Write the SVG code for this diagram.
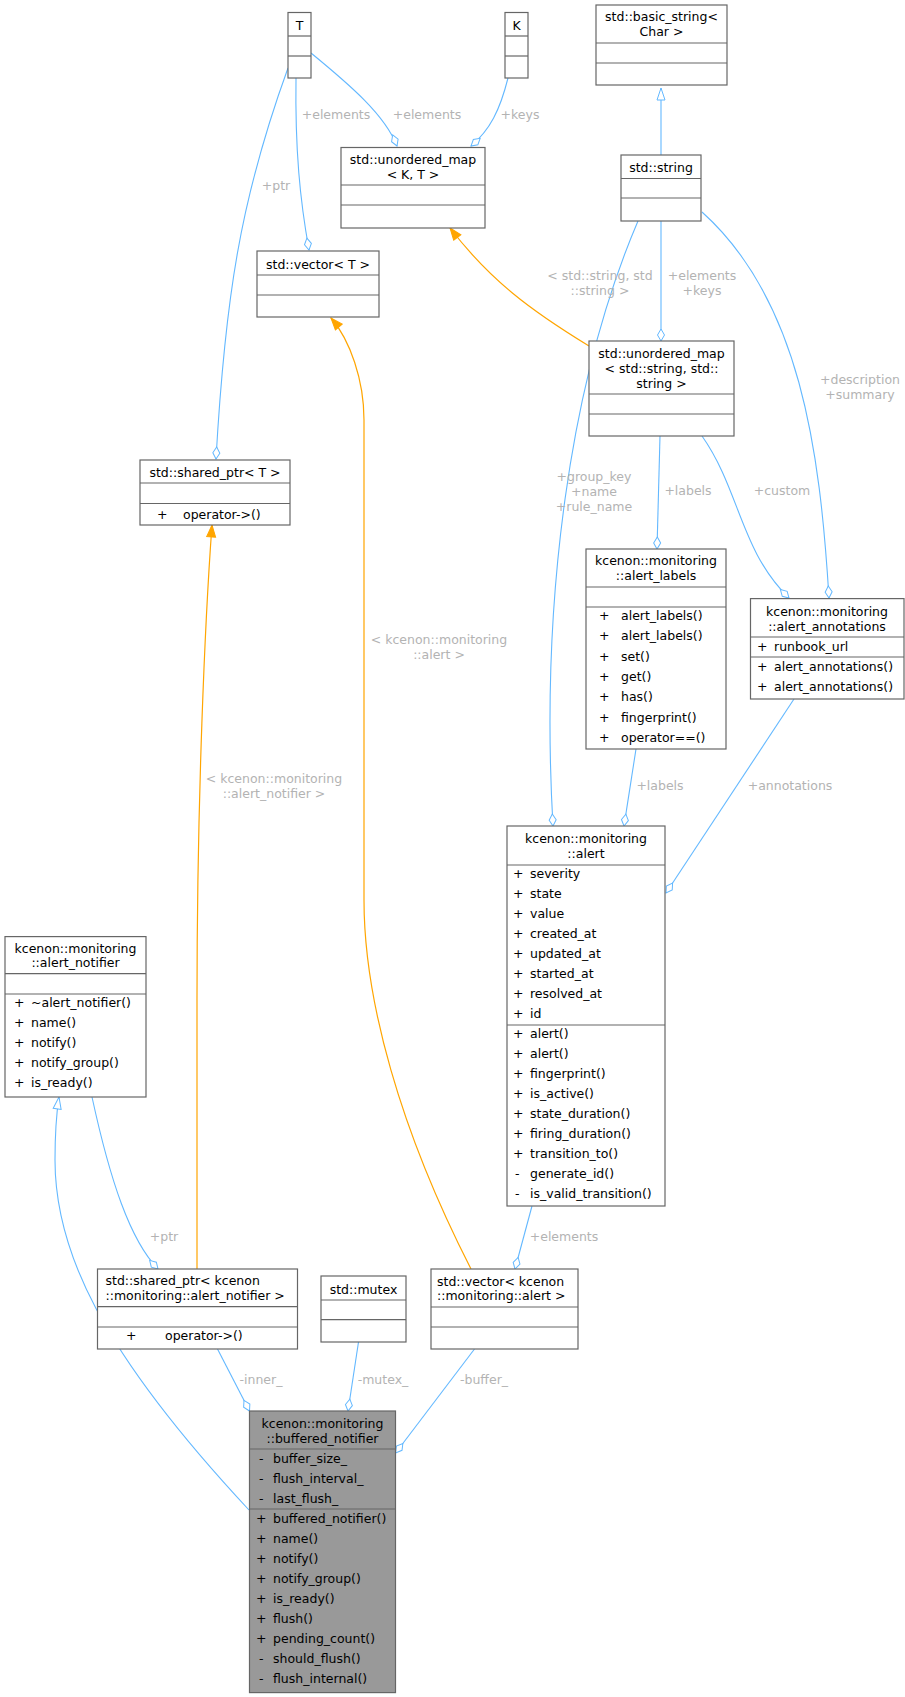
<svg xmlns="http://www.w3.org/2000/svg" width="905" height="1697" viewBox="0 0 905 1697">
<style>
text{font-family:"DejaVu Sans",sans-serif;font-size:12.5px;fill:#000}
.c{text-anchor:middle}
.l{font-size:12.5px;fill:#b3b3b3;text-anchor:middle}
.box{fill:#fff;stroke:#666;stroke-width:1.2}
.sel{fill:#999;stroke:#666;stroke-width:1.2}
.sep{stroke:#666;stroke-width:1.2}
.e{fill:none;stroke:#63b8ff;stroke-width:1.1}
.o{fill:none;stroke:#ffa500;stroke-width:1.2}
</style>
<defs>
<marker id="dia" viewBox="0 -5 14 10" refX="13" refY="0" markerWidth="14" markerHeight="10" markerUnits="userSpaceOnUse" orient="auto"><path d="M1,0 L7,-3.5 L13,0 L7,3.5Z" fill="#fff" stroke="#63b8ff"/></marker>
<marker id="inh" viewBox="0 -6 14 12" refX="13" refY="0" markerWidth="14" markerHeight="12" markerUnits="userSpaceOnUse" orient="auto"><path d="M1,-4 L13,0 L1,4Z" fill="#fff" stroke="#63b8ff"/></marker>
<marker id="tpl" viewBox="0 -6 14 12" refX="13" refY="0" markerWidth="14" markerHeight="12" markerUnits="userSpaceOnUse" orient="auto"><path d="M1,-4.5 L13,0 L1,4.5Z" fill="#ffa500" stroke="#ffa500"/></marker>
</defs>
<g id="edges">
<path class="e" d="M311,53 C350,85 385,115 397,146" marker-end="url(#dia)"/>
<text class="l" x="427" y="119">+elements</text>
<path class="e" d="M296,78 C295,150 300,200 309,250" marker-end="url(#dia)"/>
<text class="l" x="336" y="119">+elements</text>
<path class="e" d="M288,68 C240,200 225,300 216,459" marker-end="url(#dia)"/>
<text class="l" x="276" y="190">+ptr</text>
<path class="e" d="M508,78 C500,110 490,130 471,146" marker-end="url(#dia)"/>
<text class="l" x="520" y="119">+keys</text>
<path class="e" d="M661,155 L661,88" marker-end="url(#inh)"/>
<path class="e" d="M638,221 C570,380 540,600 553,826" marker-end="url(#dia)"/>
<text class="l" x="594" y="481">+group_key</text>
<text class="l" x="594" y="496">+name</text>
<text class="l" x="594" y="511">+rule_name</text>
<path class="e" d="M661,221 L661,341" marker-end="url(#dia)"/>
<text class="l" x="702" y="280">+elements</text>
<text class="l" x="702" y="295">+keys</text>
<path class="e" d="M702,212 C800,300 820,450 829,598" marker-end="url(#dia)"/>
<text class="l" x="860" y="384">+description</text>
<text class="l" x="860" y="399">+summary</text>
<path class="o" d="M589,346 C530,310 490,280 450,228" marker-end="url(#tpl)"/>
<text class="l" x="600" y="280">&lt; std::string, std</text>
<text class="l" x="600" y="295">::string &gt;</text>
<path class="e" d="M660,436 L657,549" marker-end="url(#dia)"/>
<text class="l" x="688" y="495">+labels</text>
<path class="e" d="M702,436 C740,490 740,550 789,598" marker-end="url(#dia)"/>
<text class="l" x="782" y="495">+custom</text>
<path class="o" d="M471,1269 C400,1130 364,1000 364,900 L364,420 C364,380 350,340 331,318" marker-end="url(#tpl)"/>
<text class="l" x="439" y="644">&lt; kcenon::monitoring</text>
<text class="l" x="439" y="659">::alert &gt;</text>
<path class="o" d="M197,1269 L197,1000 C197,800 205,620 212,525" marker-end="url(#tpl)"/>
<text class="l" x="274" y="783">&lt; kcenon::monitoring</text>
<text class="l" x="274" y="798">::alert_notifier &gt;</text>
<path class="e" d="M636,749 L624,826" marker-end="url(#dia)"/>
<text class="l" x="660" y="790">+labels</text>
<path class="e" d="M794,699 L666,893" marker-end="url(#dia)"/>
<text class="l" x="790" y="790">+annotations</text>
<path class="e" d="M532,1206 L515,1269" marker-end="url(#dia)"/>
<text class="l" x="564" y="1241">+elements</text>
<path class="e" d="M249,1510 C100,1350 55,1250 55,1160 C55,1130 57,1110 59,1097" marker-end="url(#inh)"/>
<path class="e" d="M92,1097 C110,1180 130,1240 158,1269" marker-end="url(#dia)"/>
<text class="l" x="164" y="1241">+ptr</text>
<path class="e" d="M217.5,1349 L249.5,1411" marker-end="url(#dia)"/>
<text class="l" x="261" y="1384">-inner_</text>
<path class="e" d="M358.5,1342 L348,1411" marker-end="url(#dia)"/>
<text class="l" x="383" y="1384">-mutex_</text>
<path class="e" d="M474.5,1349 L395.6,1453" marker-end="url(#dia)"/>
<text class="l" x="484" y="1384">-buffer_</text>
</g>
<g id="T"><rect class="box" x="288" y="12.5" width="23" height="65.5"/><line class="sep" x1="288" y1="36" x2="311" y2="36"/><line class="sep" x1="288" y1="56" x2="311" y2="56"/><text class="c" x="299.5" y="29.5">T</text></g>
<g id="K"><rect class="box" x="505" y="12.5" width="23" height="65.5"/><line class="sep" x1="505" y1="36" x2="528" y2="36"/><line class="sep" x1="505" y1="56" x2="528" y2="56"/><text class="c" x="516.5" y="29.5">K</text></g>
<g id="basic_string"><rect class="box" x="596" y="5" width="131" height="80"/><line class="sep" x1="596" y1="43" x2="727" y2="43"/><line class="sep" x1="596" y1="63" x2="727" y2="63"/><text class="c" x="661.5" y="21">std::basic_string&lt;</text><text class="c" x="661.5" y="36">Char &gt;</text></g>
<g id="umap_KT"><rect class="box" x="341" y="147.5" width="144" height="80.5"/><line class="sep" x1="341" y1="185" x2="485" y2="185"/><line class="sep" x1="341" y1="205" x2="485" y2="205"/><text class="c" x="413" y="164">std::unordered_map</text><text class="c" x="413" y="178.5">&lt; K, T &gt;</text></g>
<g id="string"><rect class="box" x="621" y="155" width="80" height="66"/><line class="sep" x1="621" y1="178.5" x2="701" y2="178.5"/><line class="sep" x1="621" y1="198" x2="701" y2="198"/><text class="c" x="661" y="172">std::string</text></g>
<g id="vector_T"><rect class="box" x="257" y="251" width="122" height="66"/><line class="sep" x1="257" y1="275" x2="379" y2="275"/><line class="sep" x1="257" y1="295" x2="379" y2="295"/><text class="c" x="318" y="268.5">std::vector&lt; T &gt;</text></g>
<g id="umap_ss"><rect class="box" x="589" y="341" width="145" height="95"/><line class="sep" x1="589" y1="394" x2="734" y2="394"/><line class="sep" x1="589" y1="414" x2="734" y2="414"/><text class="c" x="661.5" y="358">std::unordered_map</text><text class="c" x="661.5" y="372.5">&lt; std::string, std::</text><text class="c" x="661.5" y="387.5">string &gt;</text></g>
<g id="shared_ptr_T"><rect class="box" x="140" y="460" width="150" height="65"/><line class="sep" x1="140" y1="483" x2="290" y2="483"/><line class="sep" x1="140" y1="503.5" x2="290" y2="503.5"/><text class="c" x="215" y="476.5">std::shared_ptr&lt; T &gt;</text><text x="157" y="518.5">+</text><text x="183" y="518.5">operator-&gt;()</text></g>
<g id="alert_labels"><rect class="box" x="586" y="549" width="140" height="200"/><line class="sep" x1="586" y1="587" x2="726" y2="587"/><line class="sep" x1="586" y1="607" x2="726" y2="607"/><text class="c" x="656" y="565">kcenon::monitoring</text><text class="c" x="656" y="580">::alert_labels</text>
<text x="599" y="620">+</text><text x="621" y="620">alert_labels()</text>
<text x="599" y="640.3">+</text><text x="621" y="640.3">alert_labels()</text>
<text x="599" y="660.6">+</text><text x="621" y="660.6">set()</text>
<text x="599" y="680.9">+</text><text x="621" y="680.9">get()</text>
<text x="599" y="701.2">+</text><text x="621" y="701.2">has()</text>
<text x="599" y="721.5">+</text><text x="621" y="721.5">fingerprint()</text>
<text x="599" y="741.8">+</text><text x="621" y="741.8">operator==()</text></g>
<g id="alert_annotations"><rect class="box" x="750.5" y="598.6" width="153.5" height="100.4"/><line class="sep" x1="750.5" y1="637" x2="904" y2="637"/><line class="sep" x1="750.5" y1="657" x2="904" y2="657"/><text class="c" x="827" y="615.5">kcenon::monitoring</text><text class="c" x="827" y="630.5">::alert_annotations</text>
<text x="757" y="651">+</text><text x="774" y="651">runbook_url</text>
<text x="757" y="671">+</text><text x="774" y="671">alert_annotations()</text>
<text x="757" y="691">+</text><text x="774" y="691">alert_annotations()</text></g>
<g id="alert"><rect class="box" x="507" y="826" width="158" height="380"/><line class="sep" x1="507" y1="865" x2="665" y2="865"/><line class="sep" x1="507" y1="1025" x2="665" y2="1025"/><text class="c" x="586" y="843">kcenon::monitoring</text><text class="c" x="586" y="858">::alert</text>
<text x="513" y="878">+</text><text x="530" y="878">severity</text>
<text x="513" y="898">+</text><text x="530" y="898">state</text>
<text x="513" y="918">+</text><text x="530" y="918">value</text>
<text x="513" y="938">+</text><text x="530" y="938">created_at</text>
<text x="513" y="958">+</text><text x="530" y="958">updated_at</text>
<text x="513" y="978">+</text><text x="530" y="978">started_at</text>
<text x="513" y="998">+</text><text x="530" y="998">resolved_at</text>
<text x="513" y="1018">+</text><text x="530" y="1018">id</text>
<text x="513" y="1038">+</text><text x="530" y="1038">alert()</text>
<text x="513" y="1058">+</text><text x="530" y="1058">alert()</text>
<text x="513" y="1078">+</text><text x="530" y="1078">fingerprint()</text>
<text x="513" y="1098">+</text><text x="530" y="1098">is_active()</text>
<text x="513" y="1118">+</text><text x="530" y="1118">state_duration()</text>
<text x="513" y="1138">+</text><text x="530" y="1138">firing_duration()</text>
<text x="513" y="1158">+</text><text x="530" y="1158">transition_to()</text>
<text x="515" y="1178">-</text><text x="530" y="1178">generate_id()</text>
<text x="515" y="1198">-</text><text x="530" y="1198">is_valid_transition()</text></g>
<g id="alert_notifier"><rect class="box" x="5" y="936.6" width="141" height="160.4"/><line class="sep" x1="5" y1="973.7" x2="146" y2="973.7"/><line class="sep" x1="5" y1="994" x2="146" y2="994"/><text class="c" x="75.5" y="953">kcenon::monitoring</text><text class="c" x="75.5" y="967">::alert_notifier</text>
<text x="14" y="1007">+</text><text x="31" y="1007">~alert_notifier()</text>
<text x="14" y="1027">+</text><text x="31" y="1027">name()</text>
<text x="14" y="1047">+</text><text x="31" y="1047">notify()</text>
<text x="14" y="1067">+</text><text x="31" y="1067">notify_group()</text>
<text x="14" y="1087">+</text><text x="31" y="1087">is_ready()</text></g>
<g id="shared_ptr_notifier"><rect class="box" x="97.5" y="1269" width="200" height="80"/><line class="sep" x1="97.5" y1="1306.7" x2="297.5" y2="1306.7"/><line class="sep" x1="97.5" y1="1327" x2="297.5" y2="1327"/><text x="105.5" y="1285">std::shared_ptr&lt; kcenon</text><text x="105.5" y="1299.5">::monitoring::alert_notifier &gt;</text><text x="126" y="1340">+</text><text x="165" y="1340">operator-&gt;()</text></g>
<g id="mutex"><rect class="box" x="321" y="1276" width="85" height="66"/><line class="sep" x1="321" y1="1300" x2="406" y2="1300"/><line class="sep" x1="321" y1="1319.6" x2="406" y2="1319.6"/><text class="c" x="363.5" y="1293.5">std::mutex</text></g>
<g id="vector_alert"><rect class="box" x="431" y="1269" width="147" height="80"/><line class="sep" x1="431" y1="1307" x2="578" y2="1307"/><line class="sep" x1="431" y1="1327" x2="578" y2="1327"/><text x="437" y="1285.5">std::vector&lt; kcenon</text><text x="437" y="1300">::monitoring::alert &gt;</text></g>
<g id="buffered_notifier"><rect class="sel" x="249.5" y="1411" width="146" height="281.6"/><line class="sep" x1="249.5" y1="1449" x2="395.5" y2="1449"/><line class="sep" x1="249.5" y1="1509" x2="395.5" y2="1509"/><text class="c" x="322.5" y="1428">kcenon::monitoring</text><text class="c" x="322.5" y="1442.5">::buffered_notifier</text>
<text x="259" y="1463">-</text><text x="273" y="1463">buffer_size_</text>
<text x="259" y="1483">-</text><text x="273" y="1483">flush_interval_</text>
<text x="259" y="1503">-</text><text x="273" y="1503">last_flush_</text>
<text x="256" y="1523">+</text><text x="273" y="1523">buffered_notifier()</text>
<text x="256" y="1543">+</text><text x="273" y="1543">name()</text>
<text x="256" y="1563">+</text><text x="273" y="1563">notify()</text>
<text x="256" y="1583">+</text><text x="273" y="1583">notify_group()</text>
<text x="256" y="1603">+</text><text x="273" y="1603">is_ready()</text>
<text x="256" y="1623">+</text><text x="273" y="1623">flush()</text>
<text x="256" y="1643">+</text><text x="273" y="1643">pending_count()</text>
<text x="259" y="1663">-</text><text x="273" y="1663">should_flush()</text>
<text x="259" y="1683">-</text><text x="273" y="1683">flush_internal()</text></g>
</svg>
